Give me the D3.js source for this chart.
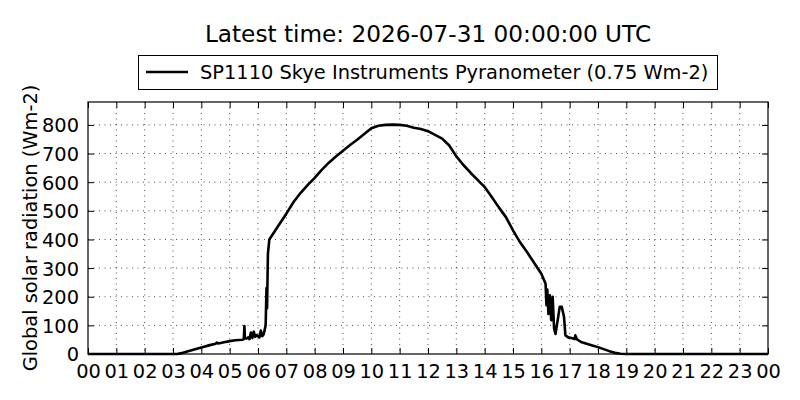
<!DOCTYPE html>
<html><head><meta charset="utf-8">
<script src="https://cdn.jsdelivr.net/npm/d3@7"></script>
<style>body{margin:0;background:#fff}svg{display:block}text{font-family:"DejaVu Sans",sans-serif;fill:#000}</style>
</head><body><svg id="c" width="800" height="400"></svg>
<script>
const titleText = "Latest time: 2026-07-31 00:00:00 UTC";
const seriesName = "SP1110 Skye Instruments Pyranometer (0.75 Wm-2)";
const yLabel = "Global solar radiation (Wm-2)";
const hours = [0,1,2,3,3.15,3.3,3.5,3.75,4.0,4.3,4.5,4.55,4.6,4.8,5.0,5.2,5.45,5.5,5.52,5.54,5.6,5.65,5.7,5.75,5.8,5.85,5.9,5.95,6.0,6.05,6.1,6.15,6.2,6.27,6.3,6.32,6.35,6.4,6.7,7.0,7.25,7.5,7.75,8.0,8.25,8.5,8.75,9.0,9.25,9.5,9.75,10.0,10.25,10.5,10.75,11.0,11.25,11.5,11.75,12.0,12.25,12.5,12.75,13.0,13.25,13.5,13.75,14.0,14.25,14.5,14.75,15.0,15.25,15.5,15.75,16.0,16.15,16.18,16.21,16.25,16.3,16.35,16.4,16.45,16.5,16.58,16.65,16.72,16.8,16.85,16.95,17.1,17.18,17.2,17.25,17.4,17.6,17.8,18.0,18.2,18.4,18.6,18.8,19.0,24];
const values = [0,0,0,0,0,3,9,16,23,31,36,40,37,41,45,48,50,52,98,55,54,58,52,75,56,78,60,66,62,58,82,62,68,100,230,160,350,400,445,490,530,562,590,615,643,668,690,710,730,748,768,788,797,800,801,800,797,790,786,778,765,752,728,690,660,633,608,583,548,512,478,432,390,355,318,280,245,170,225,140,205,118,200,90,70,120,165,165,130,65,58,55,52,65,52,42,36,30,24,17,10,4,1,0,0];
const xTickHours = d3.range(0,25);
const xTickLabels = ["00","01","02","03","04","05","06","07","08","09","10","11","12","13","14","15","16","17","18","19","20","21","22","23","00"];
const yTicks = [0,100,200,300,400,500,600,700,800];

const svg = d3.select("#c");
const L=88,R=768,T=102,B=354;
const x = d3.scaleLinear().domain([0,24]).range([L,R]);
const y = d3.scaleLinear().domain([0,880]).range([B,T]);

// grid
const g = svg.append("g");
g.selectAll(".vg").data(xTickHours.slice(1,-1)).enter().append("line")
 .attr("x1",d=>x(d)).attr("x2",d=>x(d)).attr("y1",T).attr("y2",B)
 .attr("stroke","#000").attr("stroke-width",0.7).attr("stroke-dasharray","1,4.5");
g.selectAll(".hg").data(yTicks.slice(1)).enter().append("line")
 .attr("x1",L).attr("x2",R).attr("y1",d=>y(d)).attr("y2",d=>y(d))
 .attr("stroke","#000").attr("stroke-width",0.7).attr("stroke-dasharray","1,4.5");

// axes with inward ticks
const fs = 19.4;
const xa = svg.append("g").attr("transform",`translate(0,${B})`)
 .call(d3.axisBottom(x).tickValues(xTickHours).tickFormat((d,i)=>xTickLabels[i]).tickSizeInner(-6).tickSizeOuter(0).tickPadding(10));
const xt = svg.append("g").attr("transform",`translate(0,${T})`)
 .call(d3.axisTop(x).tickValues(xTickHours).tickFormat("").tickSizeInner(-6).tickSizeOuter(0));
const ya = svg.append("g").attr("transform",`translate(${L},0)`)
 .call(d3.axisLeft(y).tickValues(yTicks).tickFormat(d3.format("d")).tickSizeInner(-6).tickSizeOuter(0).tickPadding(9));
const yr = svg.append("g").attr("transform",`translate(${R},0)`)
 .call(d3.axisRight(y).tickValues(yTicks).tickFormat("").tickSizeInner(-6).tickSizeOuter(0));
[xa,xt,ya,yr].forEach(a=>{a.select(".domain").remove();a.selectAll("line").attr("stroke","#000").attr("stroke-width",1);
 a.selectAll("text").style("font-family","DejaVu Sans").style("font-size",fs+"px").attr("fill","#000");});
ya.selectAll("text").attr("dy","0.36em");

// line
svg.append("path").datum(hours.map((h,i)=>[h,values[i]]))
 .attr("d",d3.line().x(d=>x(d[0])).y(d=>y(d[1])))
 .attr("fill","none").attr("stroke","#000").attr("stroke-width",2.6).attr("stroke-linejoin","round");

// frame
svg.append("rect").attr("x",L).attr("y",T).attr("width",R-L).attr("height",B-T)
 .attr("fill","none").attr("stroke","#000").attr("stroke-width",1.2);

// title
svg.append("text").attr("x",428).attr("y",42).attr("text-anchor","middle").style("font-size","23.2px").text(titleText);

// legend
svg.append("rect").attr("x",138.5).attr("y",55.5).attr("width",579).attr("height",34).attr("fill","#fff").attr("stroke","#000").attr("stroke-width",1);
svg.append("line").attr("x1",146).attr("x2",188).attr("y1",72).attr("y2",72).attr("stroke","#000").attr("stroke-width",2.6);
svg.append("text").attr("x",200).attr("y",79).style("font-size",fs+"px").text(seriesName);

// y label
svg.append("text").attr("transform","translate(37,228) rotate(-90)").attr("text-anchor","middle").style("font-size",fs+"px").text(yLabel);
</script></body></html>
